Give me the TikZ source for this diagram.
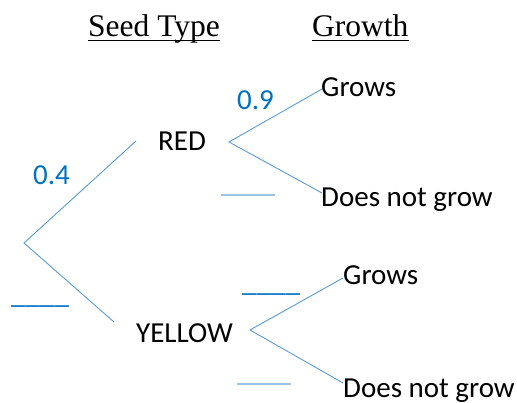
\documentclass[tikz,border=0pt]{standalone}
\usepackage{fontspec}
\setmainfont{Liberation Serif}
\newfontfamily\carl{Carlito}
\definecolor{linkblue}{HTML}{5B9BD5}
\definecolor{numblue}{HTML}{0070C0}
\definecolor{paleblue}{HTML}{9DC3E6}
\tikzset{
  head/.style={inner sep=0pt, anchor=base west, font=\fontsize{31.5}{36}\selectfont},
  lbl/.style={inner sep=0pt, anchor=base west, font=\carl\fontsize{29}{34}\selectfont},
  num/.style={lbl, text=numblue},
  branch/.style={draw=linkblue, line width=0.9pt},
  blankline/.style={draw=paleblue, line width=2pt},
  uline/.style={draw=black, line width=1.2pt}
}
\begin{document}
\begin{tikzpicture}[x=1pt,y=-1pt]
\useasboundingbox (0,0) rectangle (517,403);
% headers
\node[head] (seed) at (88,37) {Seed Type};
\node[head] (growth) at (312,37) {Growth};
\draw[uline] ([yshift=-3.2pt]seed.base west) -- ([yshift=-3.2pt]seed.base east);
\draw[uline] ([yshift=-3.2pt]growth.base west) -- ([yshift=-3.2pt]growth.base east);
% labels
\node[lbl] (red) at (158,151) {RED};
\node[lbl] (yellow) at (136,343) {YELLOW};
\node[lbl] (g1) at (321,97) {Grows};
\node[lbl] (d1) at (321,207) {Does not grow};
\node[lbl] (g2) at (343,285) {Grows};
\node[lbl] (d2) at (343,397) {Does not grow};
\node[num] (p04) at (33,185) {0.4};
\node[num] (p09) at (237,110) {0.9};
\node[num] (b1) at (11,304) {\_\_\_\_};
\node[num] (b2) at (242,292) {\_\_\_\_};
% branch points
\coordinate (root) at (24,243);
\coordinate (redL) at (136,141);
\coordinate (redR) at (229,142);
\coordinate (g1p) at (322,89);
\coordinate (d1p) at (322,193);
\coordinate (yelL) at (114,322);
\coordinate (yelR) at (250,330);
\coordinate (g2p) at (343,278);
\coordinate (d2p) at (343,383);
\draw[branch] (redL) -- (root) -- (yelL);
\draw[branch] (g1p) -- (redR) -- (d1p);
\draw[branch] (g2p) -- (yelR) -- (d2p);
% pale blank lines
\coordinate (pl1a) at (221,195);
\coordinate (pl1b) at (275,195);
\coordinate (pl2a) at (237,384);
\coordinate (pl2b) at (291,384);
\draw[blankline] (pl1a) -- (pl1b);
\draw[blankline] (pl2a) -- (pl2b);
\end{tikzpicture}
\end{document}
